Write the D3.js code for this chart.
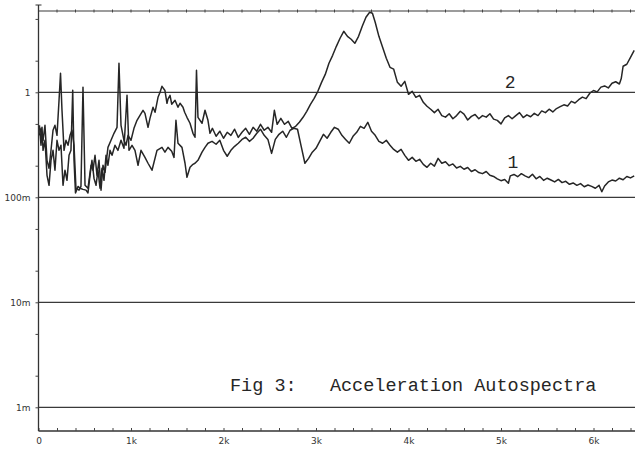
<!DOCTYPE html>
<html>
<head>
<meta charset="utf-8">
<script src="https://cdn.jsdelivr.net/npm/d3@7"></script>
<style>
  html, body { margin: 0; padding: 0; background: #fff; }
  svg { display: block; }
  .tick text { font-family: "DejaVu Sans", sans-serif; font-size: 9px; fill: #333; }
</style>
</head>
<body>
<svg id="chart" width="635" height="451"></svg>
<script>
// Acceleration autospectra, channel 1 (lower trace) — frequency in Hz, level linear
const spectrum1Hz = [10,27,38,49,70,92,114,135,157,178,200,222,243,265,286,308,330,351,370,384,400,427,449,481,514,535,557,578,600,622,643,665,686,708,730,751,773,795,827,859,892,924,957,978,1011,1043,1076,1108,1151,1184,1227,1281,1335,1367,1400,1440,1465,1486,1508,1551,1584,1605,1638,1670,1692,1724,1768,1800,1832,1876,1920,1960,2000,2040,2080,2120,2160,2200,2240,2280,2320,2360,2400,2440,2480,2520,2560,2600,2640,2680,2720,2760,2800,2840,2880,2920,2960,3000,3040,3080,3120,3160,3200,3240,3280,3320,3360,3400,3440,3480,3520,3560,3600,3640,3680,3720,3760,3800,3840,3880,3920,3960,4000,4040,4080,4120,4160,4200,4240,4280,4320,4360,4400,4440,4480,4520,4560,4600,4640,4680,4720,4760,4800,4840,4880,4920,4960,5000,5040,5080,5100,5140,5180,5220,5260,5300,5340,5380,5420,5460,5500,5540,5580,5620,5660,5700,5740,5780,5820,5860,5900,5940,5980,6020,6060,6090,6120,6160,6200,6240,6280,6320,6360,6400,6440];
const spectrum1 = [0.485,0.313,0.464,0.280,0.349,0.162,0.130,0.225,0.280,0.181,0.349,0.280,0.313,0.130,0.181,0.145,0.251,0.280,1.045,0.225,0.110,0.127,0.122,0.119,0.117,0.110,0.162,0.225,0.152,0.130,0.181,0.122,0.189,0.145,0.251,0.202,0.280,0.251,0.313,0.280,0.349,0.293,0.936,0.280,0.313,0.280,0.202,0.280,0.240,0.211,0.181,0.280,0.299,0.269,0.299,0.275,0.240,0.541,0.327,0.299,0.211,0.155,0.193,0.206,0.211,0.225,0.269,0.299,0.327,0.341,0.320,0.349,0.280,0.246,0.280,0.306,0.327,0.356,0.373,0.341,0.365,0.407,0.445,0.389,0.356,0.262,0.356,0.398,0.426,0.373,0.435,0.454,0.445,0.306,0.211,0.235,0.269,0.293,0.341,0.398,0.365,0.416,0.464,0.445,0.389,0.356,0.327,0.381,0.416,0.474,0.454,0.518,0.426,0.389,0.341,0.327,0.349,0.313,0.286,0.269,0.286,0.251,0.225,0.240,0.220,0.230,0.206,0.193,0.211,0.198,0.235,0.211,0.218,0.200,0.208,0.190,0.197,0.185,0.192,0.176,0.183,0.172,0.168,0.176,0.162,0.158,0.150,0.144,0.148,0.136,0.160,0.165,0.157,0.168,0.160,0.154,0.166,0.150,0.158,0.145,0.152,0.146,0.140,0.148,0.138,0.142,0.133,0.137,0.130,0.135,0.126,0.131,0.127,0.122,0.130,0.113,0.128,0.140,0.146,0.143,0.152,0.147,0.158,0.153,0.160];

// Channel 2 (upper trace, resonance near 3.6 kHz)
const spectrum2Hz = [10,27,49,70,92,114,135,157,178,200,222,238,254,276,297,319,341,362,384,405,438,459,481,503,535,568,589,611,632,654,676,697,719,751,784,816,849,870,892,924,946,968,1000,1032,1065,1097,1130,1151,1184,1205,1238,1260,1292,1314,1335,1367,1389,1400,1422,1440,1476,1508,1530,1562,1580,1605,1638,1670,1692,1708,1724,1768,1800,1832,1854,1880,1920,1960,2000,2040,2080,2120,2160,2200,2240,2280,2320,2360,2400,2440,2480,2520,2550,2580,2620,2660,2700,2740,2780,2820,2860,2900,2940,2980,3020,3060,3100,3140,3180,3220,3260,3300,3340,3380,3420,3460,3500,3540,3580,3610,3640,3680,3720,3760,3800,3840,3880,3920,3960,4000,4040,4080,4120,4160,4200,4240,4280,4320,4360,4400,4440,4480,4520,4560,4600,4640,4680,4720,4760,4800,4840,4880,4920,4960,5000,5040,5080,5120,5160,5200,5240,5280,5320,5360,5400,5440,5480,5520,5560,5600,5640,5680,5720,5760,5800,5840,5880,5920,5960,6000,6040,6080,6120,6160,6200,6240,6280,6300,6320,6360,6400,6440];
const spectrum2 = [0.389,0.454,0.349,0.485,0.225,0.189,0.280,0.435,0.485,0.389,0.839,1.52,0.674,0.280,0.349,0.313,0.389,0.435,0.313,0.122,0.117,0.127,1.12,0.130,0.122,0.202,0.181,0.251,0.162,0.225,0.117,0.202,0.173,0.299,0.349,0.407,0.464,1.89,0.485,0.349,0.313,0.389,0.349,0.454,0.541,0.604,0.674,0.631,0.464,0.565,0.720,0.645,0.896,1.0,1.14,1.04,0.786,0.86,0.936,0.77,0.839,0.720,0.786,0.720,0.645,0.578,0.507,0.407,0.373,1.62,0.578,0.507,0.674,0.541,0.407,0.454,0.381,0.426,0.365,0.416,0.389,0.445,0.372,0.416,0.454,0.398,0.464,0.426,0.496,0.435,0.464,0.416,0.674,0.496,0.565,0.496,0.529,0.454,0.474,0.518,0.578,0.659,0.769,0.877,1.022,1.244,1.48,1.89,2.25,2.74,3.27,3.81,3.41,3.20,2.93,3.41,4.26,5.18,5.78,5.66,4.64,3.41,2.68,2.11,1.73,1.66,1.244,1.14,1.27,0.957,1.022,0.896,0.936,0.803,0.736,0.690,0.640,0.689,0.600,0.580,0.625,0.560,0.600,0.660,0.620,0.545,0.590,0.615,0.560,0.600,0.580,0.625,0.555,0.540,0.500,0.570,0.600,0.560,0.600,0.640,0.575,0.610,0.585,0.630,0.600,0.665,0.640,0.690,0.650,0.700,0.730,0.760,0.740,0.820,0.790,0.850,0.900,0.870,0.980,1.040,1.010,1.120,1.150,1.100,1.220,1.260,1.200,1.350,1.77,1.85,2.15,2.51];

// Axis ticks and labels
const xMinorTicks = d3.range(0, 6401, 200);
const xMajorTicks = [0, 1000, 2000, 3000, 4000, 5000, 6000];
const xTickLabels = ["0", "1k", "2k", "3k", "4k", "5k", "6k"];
const yDecades = [1, 0.1, 0.01, 0.001];
const yTickLabels = ["1", "100m", "10m", "1m"];
const yMinorTicks = [5, 2, 1, 0.5, 0.2, 0.1, 0.05, 0.02, 0.01, 0.005, 0.002, 0.001];
const curveLabels = ["1", "2"];
const title = "Fig 3:   Acceleration Autospectra";

const svg = d3.select("#chart");
const W = 635;
const plotLeft = 38.5, plotTop = 11, plotBottom = 431;

const x = d3.scaleLinear().domain([0, 6000]).range([plotLeft, 593.5]);
const y = d3.scaleLog().domain([0.001, 1]).range([407.3, 92.3]);

const ink = "#262626";

svg.append("defs").append("clipPath").attr("id", "plotClip")
  .append("rect").attr("x", plotLeft).attr("y", plotTop - 1)
  .attr("width", W - plotLeft).attr("height", plotBottom - plotTop + 1);

// horizontal decade grid lines
svg.append("g").selectAll("line").data(yDecades).join("line")
  .attr("x1", plotLeft).attr("x2", W)
  .attr("y1", d => y(d)).attr("y2", d => y(d))
  .attr("stroke", "#3a3a3a").attr("stroke-width", 1.2);

// top frame line with minor ticks
svg.append("line").attr("x1", plotLeft).attr("x2", W)
  .attr("y1", plotTop).attr("y2", plotTop)
  .attr("stroke", "#3a3a3a").attr("stroke-width", 1.2);
svg.append("g").selectAll("line").data(xMinorTicks).join("line")
  .attr("x1", d => x(d)).attr("x2", d => x(d))
  .attr("y1", plotTop - 1.5).attr("y2", plotTop + 1.5)
  .attr("stroke", "#444").attr("stroke-width", 1);

// bottom axis
const xAxis = d3.axisBottom(x).tickValues(xMinorTicks).tickSize(-3).tickSizeOuter(0)
  .tickFormat(d => { const i = xMajorTicks.indexOf(d); return i >= 0 ? xTickLabels[i] : ""; });
const gx = svg.append("g").attr("transform", `translate(0,${plotBottom})`).call(xAxis);
gx.select(".domain").attr("d", `M${plotLeft},0H${W}`).attr("stroke", "#333").attr("stroke-width", 1.3);
gx.selectAll(".tick line").attr("stroke", "#444");
gx.selectAll(".tick text").attr("y", 10).attr("dy", "0.35em");

// left axis
const yAxis = d3.axisLeft(y).tickValues(yMinorTicks).tickSize(3).tickSizeOuter(0)
  .tickFormat(d => { const i = yDecades.indexOf(d); return i >= 0 ? yTickLabels[i] : ""; });
const gy = svg.append("g").attr("transform", `translate(${plotLeft},0)`).call(yAxis);
gy.select(".domain").attr("d", `M0,5V${plotBottom}`).attr("stroke", "#333").attr("stroke-width", 1.3);
gy.selectAll(".tick line").attr("stroke", "#444");
gy.selectAll(".tick text").attr("x", -8);
gy.append("line").attr("x1", -3).attr("x2", 3).attr("y1", 5).attr("y2", 5).attr("stroke", "#333");

// spectra traces
const line = d3.line().x(d => x(d[0])).y(d => y(d[1]));
const series = [
  d3.zip(spectrum1Hz, spectrum1),
  d3.zip(spectrum2Hz, spectrum2)
];
svg.append("g").attr("clip-path", "url(#plotClip)")
  .selectAll("path").data(series).join("path")
  .attr("d", line)
  .attr("fill", "none")
  .attr("stroke", ink)
  .attr("stroke-width", 1.5)
  .attr("stroke-linejoin", "round");

// trace numbers
const labelPos = [[5130, 0.190], [5100, 1.10]];
svg.append("g").selectAll("text").data(curveLabels).join("text")
  .attr("x", (d, i) => x(labelPos[i][0]))
  .attr("y", (d, i) => y(labelPos[i][1]))
  .attr("text-anchor", "middle")
  .attr("font-family", "'Liberation Mono', monospace")
  .attr("font-size", 18)
  .attr("fill", ink)
  .text(d => d);

// caption
svg.append("text")
  .attr("x", 230).attr("y", 391)
  .attr("font-family", "'Liberation Mono', monospace")
  .attr("font-size", 18.5)
  .attr("fill", ink)
  .attr("xml:space", "preserve")
  .style("white-space", "pre")
  .text(title);
</script>
</body>
</html>
